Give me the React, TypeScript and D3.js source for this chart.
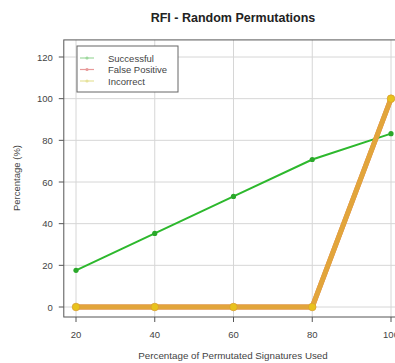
import * as d3 from "d3";

const xs = [20, 40, 60, 80, 100];
const successful = [17.6, 35.3, 53.1, 70.8, 83.2];
const falsePositive = [0, 0, 0, 0, 100];
const incorrect = [0, 0, 0, 0, 100];
const yTicks = [0, 20, 40, 60, 80, 100, 120];
const legendLabels = ["Successful", "False Positive", "Incorrect"];

const W = 395;
const H = 363;
const font = "Liberation Sans, Arial, sans-serif";

export default function App() {
  const x = d3.scaleLinear().domain([20, 100]).range([76, 391]);
  const y = d3.scaleLinear().domain([0, 120]).range([307, 57]);
  const left = x(16.9);
  const right = x(103.1);
  const top = y(128.2);
  const bottom = y(-4.8);

  const pts = (vals: number[]) => xs.map((v, i) => [x(v), y(vals[i])] as [number, number]);
  const line = d3.line();

  const legendColors = ["#9ed89e", "#e89a9a", "#e6e29a"];

  return (
    <svg width={W} height={H} style={{ position: "absolute", left: 0, top: 0, background: "#fff" }} fontFamily={font}>
      <defs>
        <clipPath id="plot">
          <rect x={left} y={top} width={right - left} height={bottom - top} />
        </clipPath>
      </defs>
      <text x={233} y={21.5} textAnchor="middle" fontSize={12.5} fontWeight="bold" fill="#222">
        RFI - Random Permutations
      </text>

      {/* grid */}
      {yTicks.map((t) => (
        <line key={"gy" + t} x1={left} x2={right} y1={y(t)} y2={y(t)} stroke="#d6d6d6" strokeWidth={1} />
      ))}
      {xs.map((t) => (
        <line key={"gx" + t} x1={x(t)} x2={x(t)} y1={top} y2={bottom} stroke="#d6d6d6" strokeWidth={1} />
      ))}

      {/* frame */}
      <rect x={left} y={top} width={right - left} height={bottom - top} fill="none" stroke="#555" strokeWidth={1} />

      {/* axes ticks */}
      {yTicks.map((t) => (
        <g key={"ty" + t}>
          <line x1={left - 5} x2={left} y1={y(t)} y2={y(t)} stroke="#555" />
          <text x={left - 11} y={y(t) + 3.5} textAnchor="end" fontSize={9.5} fill="#444">
            {t}
          </text>
        </g>
      ))}
      {xs.map((t) => (
        <g key={"tx" + t}>
          <line x1={x(t)} x2={x(t)} y1={bottom} y2={bottom + 5} stroke="#555" />
          <text x={x(t)} y={bottom + 20.5} textAnchor="middle" fontSize={9.5} fill="#444">
            {t}
          </text>
        </g>
      ))}

      <text x={233} y={358.5} textAnchor="middle" fontSize={9.8} fill="#444">
        Percentage of Permutated Signatures Used
      </text>
      <text transform={`translate(19.5,${178}) rotate(-90)`} textAnchor="middle" fontSize={9.5} fill="#444">
        Percentage (%)
      </text>

      <g clipPath="url(#plot)">
        <path d={line(pts(successful)) || ""} fill="none" stroke="#2db82d" strokeWidth={2} />
        {pts(successful).map(([px, py], i) => (
          <circle key={"s" + i} cx={px} cy={py} r={2.6} fill="#2aa82a" />
        ))}
        <path d={line(pts(falsePositive)) || ""} fill="none" stroke="#d95f3b" strokeWidth={5} />
        <path d={line(pts(incorrect)) || ""} fill="none" stroke="#e3b23c" strokeOpacity={0.85} strokeWidth={5} />
        {pts(incorrect).map(([px, py], i) => (
          <circle key={"c" + i} cx={px} cy={py} r={3.8} fill="#e8c21c" stroke="#d9a032" strokeWidth={0.8} />
        ))}
      </g>

      {/* legend */}
      <rect x={77} y={46} width={101} height={46} fill="#fff" stroke="#666" strokeWidth={1} />
      {legendLabels.map((lab, i) => (
        <g key={lab}>
          <line x1={80} x2={94} y1={58 + i * 11.5} y2={58 + i * 11.5} stroke={legendColors[i]} strokeWidth={1.2} />
          <circle cx={87} cy={58 + i * 11.5} r={1.6} fill={legendColors[i]} />
          <text x={108} y={61.5 + i * 11.5} fontSize={9.5} fill="#444">
            {lab}
          </text>
        </g>
      ))}
    </svg>
  );
}
